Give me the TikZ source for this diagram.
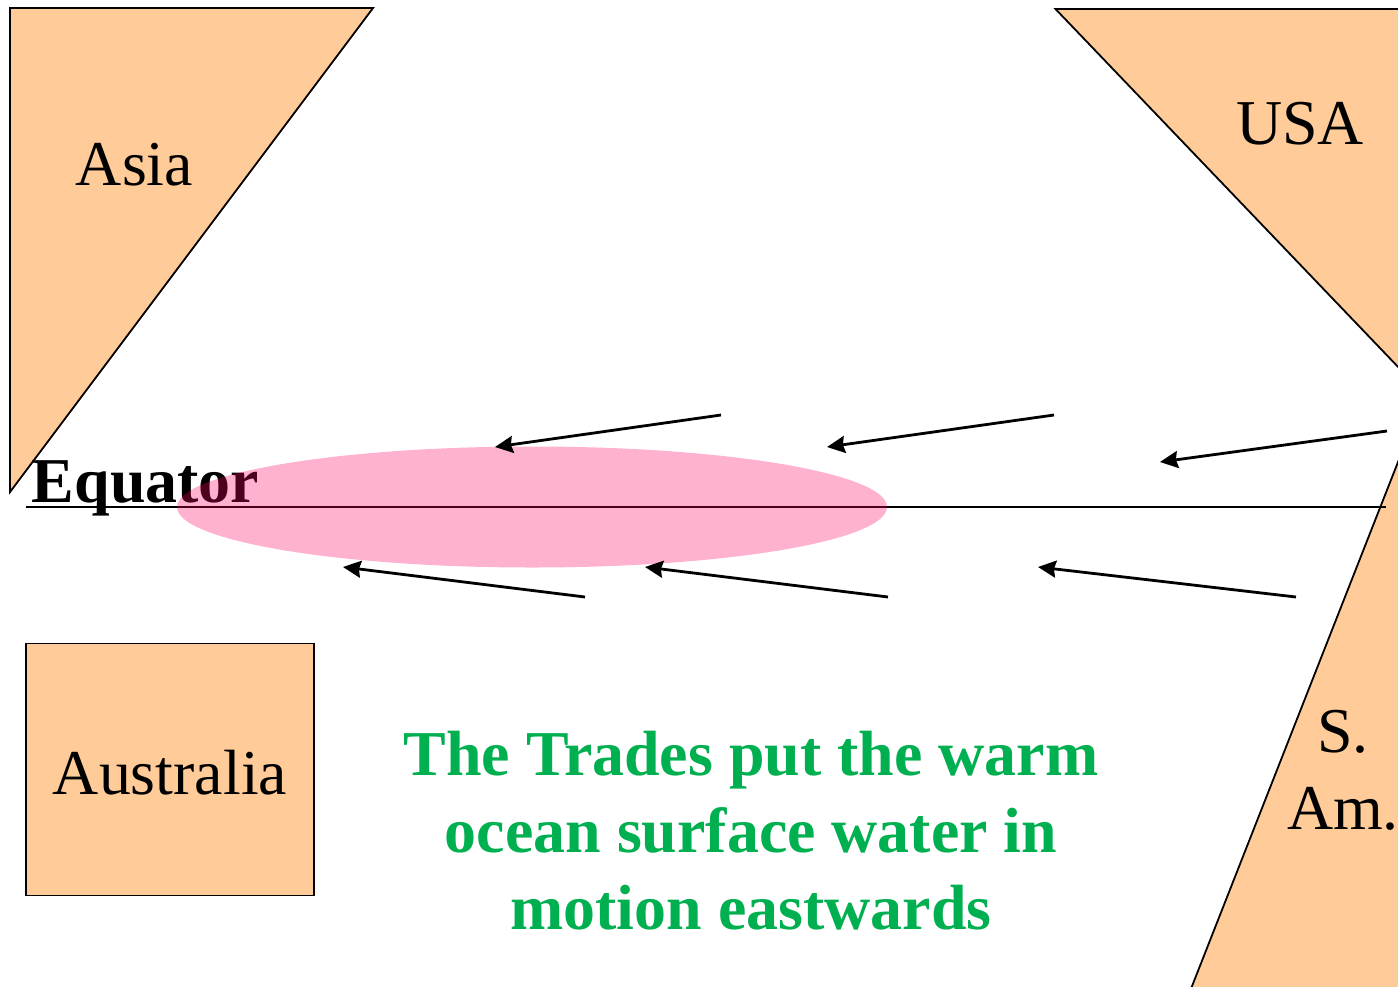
\documentclass[tikz,border=0pt]{standalone}
\usepackage{fontspec}
\setmainfont{Liberation Serif}
\usetikzlibrary{arrows.meta}
\definecolor{land}{RGB}{255,204,153}
\definecolor{warm}{RGB}{255,0,102}
\definecolor{trade}{RGB}{0,176,80}
\tikzset{x=1pt,y=-1pt,
 landshape/.style={fill=land,draw=black,line width=1.8pt},
 landlabel/.style={font=\fontsize{63.9}{77}\selectfont,text=black,inner sep=0pt,align=center},
 windarrow/.style={draw=black,line width=2.8pt,-{Stealth[length=18pt,width=17pt,inset=2pt]}}}
\begin{document}
\begin{tikzpicture}
\useasboundingbox (0,0) rectangle (1398,986);
\fill[white] (0,0) rectangle (1398,986);
\path[landshape] (10,8) -- (373,8) -- (10,492) -- cycle;
\path[landshape] (1055.5,9) -- (1412,9) -- (1412,381.5) -- cycle;
\path[landshape] (1398,462) -- (1412,426) -- (1412,1004) -- (1185,1004) -- cycle;
\node[landshape,minimum width=288pt,minimum height=252pt,inner sep=0pt,anchor=north west] (aus) at (25,642.5) {};
\node[landlabel] (asia) at (134.5,165) {Asia};
\node[landlabel] (usa) at (1300,124) {USA};
\node[landlabel] (sam) at (1343,770) {S.\\Am.};
\node[landlabel] (auslab) at (170,773) {Australia};
\node[font=\fontsize{63.9}{77}\selectfont\bfseries,inner sep=0pt] (eq) at (145.5,488) {Equator};
\coordinate (eqa) at (26,507);
\coordinate (eqb) at (1386,507);
\draw[line width=1.8pt] (eqa) -- (eqb);
\fill[warm,opacity=.3] (532,507) ellipse [x radius=355,y radius=60.5];
\foreach \n/\xa/\ya/\xb/\yb in {a/721/415/495/447,b/1054/415/827/447,c/1387/431/1160/462,d/585/597/343/567,e/888/597/645/567,f/1296/597/1038/567}{
 \coordinate (\n1) at (\xa,\ya);
 \coordinate (\n2) at (\xb,\yb);
 \draw[windarrow] (\n1) -- (\n2);
}
\node[font=\fontsize{63.9}{77}\selectfont\bfseries,text=trade,align=center,inner sep=0pt] (msg) at (751,831) {The Trades put the warm\\ocean surface water in\\motion eastwards};
\end{tikzpicture}
\end{document}
